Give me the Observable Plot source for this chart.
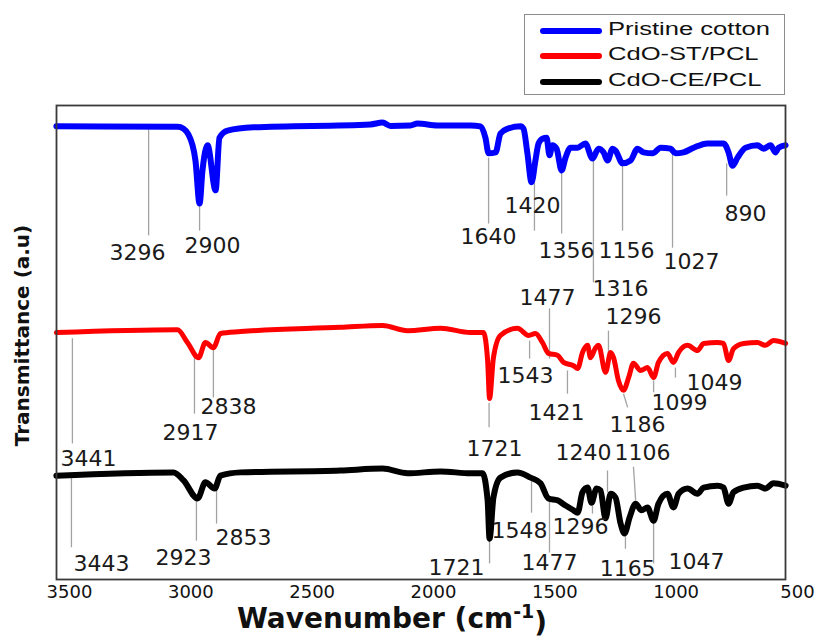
<!DOCTYPE html>
<html>
<head>
<meta charset="utf-8">
<script src="https://cdn.jsdelivr.net/npm/d3@7"></script>
<script src="https://cdn.jsdelivr.net/npm/@observablehq/plot@0.6"></script>
<style>
  body { margin: 0; background: #fff; }
  #wrap { position: relative; width: 816px; height: 640px; }
  #legend { position: absolute; left: 524px; top: 14px; width: 261px; height: 81px;
            box-sizing: border-box; border: 1.5px solid #8c8c8c; background: #fff; }
  .swatch { position: absolute; left: 15px; width: 62px; height: 6px; border-radius: 3px; }
  .name { position: absolute; left: 83px; height: 24px; line-height: 24px;
          font: 18px "Liberation Sans", Arial, sans-serif; color: #111; white-space: nowrap;
          transform: scaleX(1.42); transform-origin: left center; }
</style>
</head>
<body>
<div id="wrap"></div>
<script>
// FTIR spectra: wavenumber (cm-1) vs transmittance (a.u., stacked with offsets)
const seriesNames = ["Pristine cotton", "CdO-ST/PCL", "CdO-CE/PCL"];
const seriesColors = ["#0000ff", "#ff0000", "#000000"];
const seriesWidths = [6, 5, 6];
const xTicks = [3500, 3000, 2500, 2000, 1500, 1000, 500];
const yTitle = "Transmittance (a.u)";
const xTitle = "Wavenumber (cm-1)";

// [wavenumber, transmittance]
const pristineCotton = [
  [3554,95.6],[3055,95.5],[3030,95.1],[2993,91.6],[2981,88.4],[2964,79.3],[2952,86.3],[2931,91.6],
  [2898,82.1],[2882,93.2],[2849,94.7],[2742,95.4],[2260,96.0],[2210,96.4],[2177,95.7],[2095,95.8],
  [2066,96.2],[1983,95.8],[1847,95.8],[1806,95.6],[1786,93.2],[1773,89.9],[1744,90.1],[1724,94.1],
  [1695,95.1],[1641,95.6],[1629,95.1],[1613,89.9],[1596,83.8],[1580,88.4],[1567,92.0],[1551,93.0],
  [1534,93.2],[1522,89.5],[1510,91.6],[1493,90.9],[1472,86.3],[1456,89.0],[1435,91.1],[1406,91.1],
  [1374,92.0],[1345,88.8],[1320,90.9],[1299,90.1],[1283,88.4],[1262,90.9],[1250,90.5],[1221,87.8],
  [1188,88.4],[1159,90.9],[1135,90.1],[1097,89.9],[1064,91.1],[1023,90.9],[1003,89.9],[970,90.1],
  [928,91.1],[871,92.0],[805,92.0],[784,90.1],[768,87.3],[747,89.0],[714,91.1],[665,91.6],
  [640,90.9],[611,91.6],[591,90.1],[578,91.1],[549,91.6]
];
const cdoST = [
  [3554,52.1],[3055,52.7],[3014,50.0],[2968,46.8],[2940,50.0],[2907,48.9],[2878,51.9],[2795,52.3],
  [2383,53.2],[2210,53.6],[2107,52.5],[1971,53.0],[1847,52.1],[1794,52.1],[1777,46.2],[1769,38.2],
  [1753,46.8],[1724,51.5],[1654,53.0],[1608,51.5],[1580,51.9],[1551,50.0],[1526,47.7],[1489,47.3],
  [1464,45.8],[1423,45.1],[1406,44.5],[1386,47.9],[1365,49.4],[1353,46.8],[1332,48.9],[1320,49.4],
  [1291,43.7],[1270,47.9],[1258,46.8],[1238,42.0],[1217,39.9],[1196,42.6],[1176,45.6],[1147,44.1],
  [1118,44.7],[1093,42.6],[1073,45.8],[1036,47.7],[1011,45.8],[990,47.9],[953,49.4],[912,48.3],
  [887,49.8],[830,50.0],[805,49.8],[784,46.2],[764,48.7],[722,49.8],[665,50.0],[632,49.4],
  [599,50.4],[549,49.8]
];
const cdoCE = [
  [3554,21.9],[3071,22.6],[3030,20.9],[2972,17.1],[2940,20.5],[2902,19.2],[2878,21.9],[2795,22.6],
  [2383,23.0],[2210,23.4],[2107,22.4],[1971,22.8],[1847,22.4],[1798,22.4],[1777,16.7],[1769,8.6],
  [1753,17.3],[1724,21.5],[1654,22.6],[1600,21.5],[1559,20.3],[1526,17.1],[1489,16.7],[1456,15.6],
  [1423,14.6],[1406,14.1],[1386,18.4],[1365,19.4],[1349,16.2],[1328,19.2],[1312,18.8],[1291,12.9],
  [1270,18.1],[1250,17.3],[1229,11.8],[1213,9.7],[1192,13.1],[1167,16.0],[1143,14.6],[1118,15.2],
  [1093,12.4],[1073,16.0],[1036,18.1],[1011,15.2],[990,18.1],[953,19.2],[912,18.1],[887,19.4],
  [830,19.8],[805,19.4],[784,16.0],[764,18.4],[722,19.4],[665,19.8],[632,19.2],[599,20.3],[549,19.8]
];

// Band assignments: label, leader line [w1, t1, w2, t2], label anchor [w, t]
const cottonBands = ["3296","2900","1640","1420","1356","1316","1156","1027","890"];
const cottonLeaders = [
  [3174,95.4,3174,72.6],[2964,79.3,2964,73.6],[1773,89.0,1773,75.1],[1584,83.8,1584,73.6],
  [1472,86.3,1472,73.0],[1341,88.8,1341,62.7],[1221,87.8,1221,73.6],[1015,89.9,1015,70.0],
  [792,87.8,792,81.0]
];
const cottonLabelAt = [
  [3220,68.8],[2911,70.3],[1773,72.2],[1592,78.9],[1452,69.4],[1229,61.4],[1205,69.4],[937,66.9],[714,77.2]
];
const stBands = ["3441","2917","2838","1721","1543","1477","1421","1296","1186","1099","1049"];
const stLeaders = [
  [3488,50.9,3488,28.7],[2985,47.5,2985,35.0],[2907,48.9,2907,38.4],[1771,37.3,1771,32.1],
  [1604,50.4,1604,46.6],[1522,57.2,1522,46.6],[1448,44.1,1448,39.2],[1279,52.5,1279,44.1],
  [1217,39.2,1200,36.3],[1093,42.0,1093,39.5],[1003,44.7,1003,42.6]
];
const stLabelAt = [
  [3422,25.5],[3001,31.0],[2845,36.3],[1749,27.6],[1621,43.0],[1530,59.5],[1493,35.2],[1176,55.3],
  [1159,32.5],[986,37.3],[842,41.4]
];
const ceBands = ["3443","2923","2853","1721","1548","1477","1296","1240","1106","1165","1047"];
const ceLeaders = [
  [3492,21.9,3492,6.8],[2977,16.7,2977,8.2],[2894,18.8,2894,11.8],[1769,8.2,1769,3.4],
  [1596,21.5,1596,14.1],[1522,17.7,1522,5.7],[1345,15.6,1345,13.9],[1283,23.0,1283,18.4],
  [1176,23.8,1167,16.7],[1209,10.3,1209,6.5],[1093,12.9,1093,3.4]
];
const ceLabelAt = [
  [3368,3.2],[3030,4.6],[2783,8.7],[1905,2.5],[1646,10.3],[1522,3.4],[1394,11.0],[1382,26.8],
  [1139,26.8],[1200,2.3],[916,3.6]
];

const spectra = [pristineCotton, cdoST, cdoCE].map((pts, i) =>
  pts.map(([w, t]) => ({series: seriesNames[i], w, t})));

const bands = [
  [cottonBands, cottonLeaders, cottonLabelAt],
  [stBands, stLeaders, stLabelAt],
  [ceBands, ceLeaders, ceLabelAt]
].flatMap(([labels, leaders, at]) => labels.map((label, j) => ({
  label,
  x1: leaders[j][0], y1: leaders[j][1], x2: leaders[j][2], y2: leaders[j][3],
  tx: at[j][0], ty: at[j][1]
})));

const chart = Plot.plot({
  width: 816,
  height: 640,
  marginTop: 105,
  marginBottom: 61,
  marginLeft: 56,
  marginRight: 31,
  style: {fontFamily: "DejaVu Sans", fontSize: "18px", background: "#fff", color: "#111"},
  x: {domain: [3500, 500], range: [69, 797], ticks: xTicks, tickSize: 0, tickPadding: 6,
      tickFormat: "d", label: null},
  y: {domain: [0, 100], axis: null},
  color: {domain: seriesNames, range: seriesColors},
  marks: [
    Plot.link(bands, {x1: "x1", y1: "y1", x2: "x2", y2: "y2", stroke: "#a3a3a3", strokeWidth: 1.3}),
    ...spectra.map((s, i) => Plot.line(s, {
      x: "w", y: "t", stroke: "series", strokeWidth: seriesWidths[i],
      curve: "monotone-x", strokeLinejoin: "round", strokeLinecap: "round"
    })),
    Plot.text(bands, {x: "tx", y: "ty", text: "label", fontSize: 22, fill: "#1a1a1a"}),
    Plot.frame({stroke: "#3a3a3a", strokeWidth: 1.8}),
    Plot.text([yTitle], {text: d => d, frameAnchor: "left", textAnchor: "middle", rotate: -90,
      dx: -34, dy: -7, fontSize: 20, fontWeight: "bold", fill: "#111"}),
    Plot.text([xTitle], {text: d => d, frameAnchor: "bottom", dx: -29, dy: 48,
      fontSize: 28, fontWeight: "bold", fill: "#111"})
  ]
});

// Typeset the unit of the x title with a raised exponent
d3.select(chart).selectAll("text")
  .filter(function () { return this.textContent === xTitle; })
  .each(function () {
    const t = d3.select(this);
    t.text(null);
    t.append("tspan").text("Wavenumber (cm");
    t.append("tspan").attr("dy", "-0.5em").attr("font-size", "19px").text("-1");
    t.append("tspan").attr("dy", "0.5em").text(")");
  });

const wrap = document.getElementById("wrap");
wrap.appendChild(chart);

// Legend box
const legend = document.createElement("div");
legend.id = "legend";
const rowCenters = [16, 41, 67];
seriesNames.forEach((name, i) => {
  const sw = document.createElement("div");
  sw.className = "swatch";
  sw.style.top = (rowCenters[i] - 3) + "px";
  sw.style.background = seriesColors[i];
  legend.appendChild(sw);
  const label = document.createElement("div");
  label.className = "name";
  label.style.top = (rowCenters[i] - 12) + "px";
  label.textContent = name;
  legend.appendChild(label);
});
wrap.appendChild(legend);
</script>
</body>
</html>
